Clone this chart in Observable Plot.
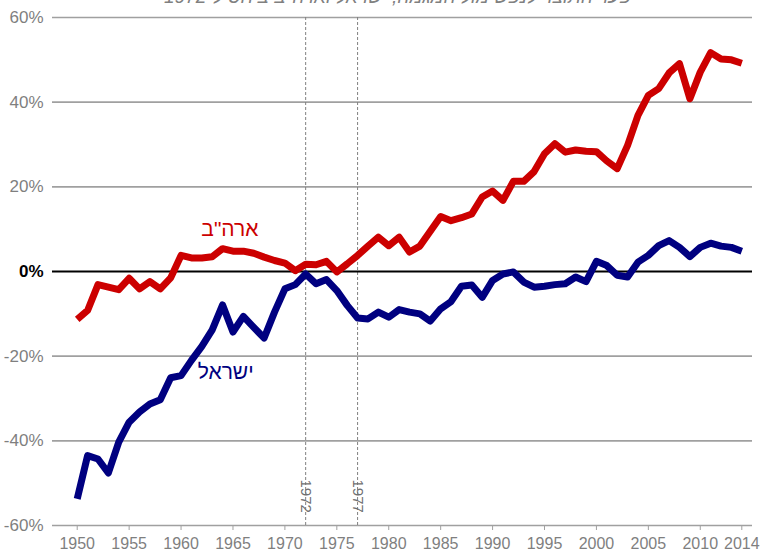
<!DOCTYPE html>
<html><head><meta charset="utf-8">
<script src="https://cdn.jsdelivr.net/npm/d3@7"></script>
<script src="https://cdn.jsdelivr.net/npm/@observablehq/plot@0.6"></script>
<style>
body{margin:0;background:#fff;overflow:hidden;}
#wrap{position:relative;width:766px;height:553px;overflow:hidden;}
#title{position:absolute;top:-14px;left:110px;width:575px;text-align:center;direction:rtl;
 font-family:"Liberation Sans",Arial,sans-serif;font-size:19px;font-style:italic;color:#808080;white-space:nowrap;z-index:2;}
</style></head>
<body><div id="wrap"><div id="title"></div><div id="chart"></div></div>
<script>
const titleText = "פער התוצר לנפש מול המגמה, ישראל וארה\"ב ביחס ל-1972";
const years = d3.range(1950, 2015);
const usa = [-11.3,-9.2,-3.1,-3.7,-4.3,-1.6,-4.1,-2.4,-4.1,-1.5,
  3.8,3.2,3.2,3.5,5.4,4.8,4.8,4.3,3.4,2.6,
  2.0,0.2,1.7,1.6,2.4,-0.1,1.8,3.8,6.0,8.1,
  6.1,8.1,4.6,6.0,9.5,13.0,12.0,12.7,13.6,17.6,
  19.0,16.8,21.3,21.3,23.6,27.8,30.2,28.2,28.7,28.4,
  28.3,26.1,24.3,29.8,36.9,41.6,43.2,46.9,49.1,40.8,
  47.1,51.7,50.2,50.0,49.2];
const israel = [-53.7,-43.5,-44.3,-47.6,-40.3,-35.6,-33.2,-31.3,-30.3,-25.1,
  -24.6,-21.0,-17.7,-13.8,-7.9,-14.3,-10.6,-13.2,-15.7,-9.6,
  -4.1,-3.1,-0.6,-2.9,-1.9,-4.5,-8.0,-11.0,-11.2,-9.6,
  -10.8,-9.0,-9.6,-10.0,-11.7,-8.8,-7.1,-3.5,-3.2,-6.1,
  -2.1,-0.6,-0.1,-2.5,-3.7,-3.5,-3.1,-2.9,-1.3,-2.4,
  2.4,1.4,-0.9,-1.3,2.2,3.8,6.1,7.3,5.7,3.5,
  5.7,6.7,6.0,5.7,4.8];
const seriesNames = ["ארה\"ב", "ישראל"];
const xTicks = [1950,1955,1960,1965,1970,1975,1980,1985,1990,1995,2000,2005,2010,2014];
const yTicks = [-60,-40,-20,0,20,40,60];
const markerYears = [1972, 1977];

document.getElementById("title").textContent = titleText;

const usaData = years.map((y,i)=>({year:y, v:usa[i]}));
const isrData = years.map((y,i)=>({year:y, v:israel[i]}));
const font = "'Liberation Sans', Arial, sans-serif";

const chart = Plot.plot({
  width: 766, height: 553,
  marginLeft: 52, marginRight: 14, marginTop: 17, marginBottom: 28,
  style: {fontFamily: font, background: "#fff"},
  x: {domain: [1947.62, 2015.03], axis: null, label: null},
  y: {domain: [-60, 60], axis: null, label: null},
  marks: [
    Plot.ruleY(yTicks.filter(d=>d!==0), {stroke: "#a0a0a0", strokeWidth: 1.6}),
    Plot.ruleX(markerYears, {y1: -60, y2: 60, stroke: "#808080", strokeWidth: 1, strokeDasharray: "3,2"}),
    Plot.text(markerYears, {x: d=>d, y: -55.2, text: d=>String(d), rotate: 90, dy: -9, fill: "#707070", fontSize: 15, fontFamily: font}),
    Plot.ruleY([0], {stroke: "#000", strokeWidth: 2}),
    Plot.axisX({ticks: xTicks, tickFormat: d=>String(d), tickSize: 5, tickPadding: 7, stroke: "#a0a0a0", color: "#7f7f7f", fontSize: 16, anchor: "bottom", label: null}),
    Plot.axisY({ticks: yTicks.filter(d=>d!==0), tickFormat: d=>d+"%", tickSize: 0, tickPadding: 9, color: "#7f7f7f", fontSize: 17, anchor: "left", label: null}),
    Plot.axisY({ticks: [0], tickFormat: d=>d+"%", tickSize: 0, tickPadding: 9, color: "#000", fontSize: 17, fontWeight: "bold", anchor: "left", label: null}),
    Plot.line(usaData, {x: "year", y: "v", stroke: "#cc0000", strokeWidth: 7, strokeLinejoin: "round", strokeLinecap: "butt"}),
    Plot.line(isrData, {x: "year", y: "v", stroke: "#000080", strokeWidth: 7, strokeLinejoin: "round", strokeLinecap: "butt"}),
    Plot.text([seriesNames[0]], {x: 1964.7, y: 9.9, text: d=>d, fill: "#cc0000", fontSize: 21, fontFamily: font}),
    Plot.text([seriesNames[1]], {x: 1964.3, y: -23.9, text: d=>d, fill: "#000080", fontSize: 21, fontFamily: font})
  ]
});
document.getElementById("chart").appendChild(chart);
</script></body></html>
